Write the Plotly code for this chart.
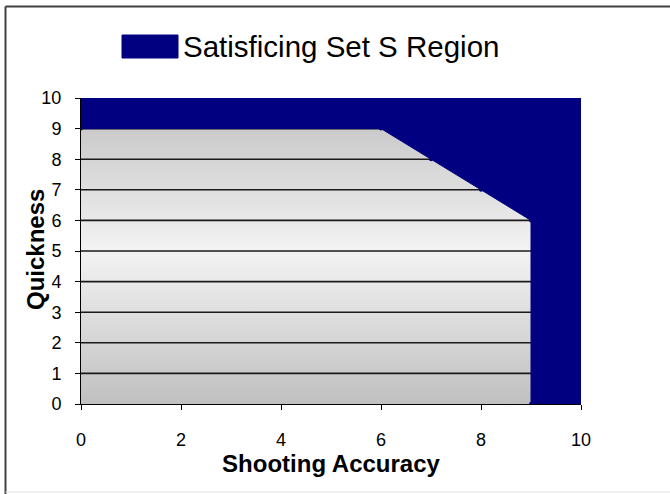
import plotly.graph_objects as go

# ---- data ----
x_ticks = [0, 2, 4, 6, 8, 10]
y_ticks = [0, 1, 2, 3, 4, 5, 6, 7, 8, 9, 10]
boundary_x = [0, 6, 7, 8, 9, 9]
boundary_y = [9, 9, 8, 7, 6, 0]
x_max = 10
y_max = 10
series_name = "Satisficing Set S Region"
x_title = "Shooting Accuracy"
y_title = "Quickness"

NAVY = "#000080"
FONT = "Arial, Liberation Sans, sans-serif"

fig = go.Figure()

# gradient plot-area background
fig.add_trace(go.Scatter(
    x=[0, x_max, x_max, 0, 0], y=[0, 0, y_max, y_max, 0],
    mode="lines", line=dict(width=0), fill="toself",
    fillgradient=dict(type="vertical",
                      colorscale=[[0, "#c0c0c0"], [0.5, "#f3f3f3"], [1, "#c0c0c0"]]),
    showlegend=False, hoverinfo="skip"))

# horizontal grid lines
gx, gy = [], []
for v in y_ticks[1:-1]:
    gx += [0, x_max, None]
    gy += [v, v, None]
fig.add_trace(go.Scatter(x=gx, y=gy, mode="lines",
                         line=dict(color="#1a1a1a", width=1.6),
                         showlegend=False, hoverinfo="skip"))

# satisficing region
px = [0] + boundary_x + [x_max, x_max]
py = [y_max] + boundary_y + [0, y_max]
fig.add_trace(go.Scatter(x=px, y=py, mode="lines+markers", fill="toself",
                         fillcolor=NAVY, line=dict(color=NAVY, width=1),
                         marker=dict(color=NAVY, size=4),
                         name=series_name, showlegend=False))

W, H = 670, 494
L, R, T, B = 81, 89, 98, 90
pw, ph = W - L - R, H - T - B

def xp(pxl):
    return (pxl - L) / pw

def yp(pyl):
    return (H - B - pyl) / ph

shapes = [
    # legend key
    dict(type="rect", xref="paper", yref="paper",
         x0=xp(122), x1=xp(178), y0=yp(58), y1=yp(35),
         fillcolor=NAVY, line=dict(color=NAVY, width=1)),
    # outer frame (top and left)
    dict(type="line", xref="paper", yref="paper",
         x0=xp(5.5), x1=xp(670), y0=yp(6.5), y1=yp(6.5),
         line=dict(color="#404040", width=2)),
    dict(type="line", xref="paper", yref="paper",
         x0=xp(5.5), x1=xp(5.5), y0=yp(6.5), y1=yp(494),
         line=dict(color="#404040", width=2)),
    dict(type="line", xref="paper", yref="paper",
         x0=xp(5.5), x1=xp(670), y0=yp(492), y1=yp(492),
         line=dict(color="#e6e6e6", width=1)),
]

annotations = [
    dict(xref="paper", yref="paper", x=xp(181), y=yp(47), xanchor="left",
         yanchor="middle", text=series_name, showarrow=False,
         font=dict(family=FONT, size=29.5, color="black")),
    dict(xref="paper", yref="paper", x=xp(35), y=yp(250), xanchor="center",
         yanchor="middle", text="<b>" + y_title + "</b>", showarrow=False,
         textangle=-90, font=dict(family=FONT, size=24, color="black")),
]

fig.update_layout(
    width=W, height=H, autosize=False,
    margin=dict(l=L, r=R, t=T, b=B),
    paper_bgcolor="white", plot_bgcolor="white",
    showlegend=False,
    shapes=shapes, annotations=annotations,
    font=dict(family=FONT, color="black"),
    xaxis=dict(range=[0, x_max], tickvals=x_ticks, ticks="outside", ticklen=5,
               tickcolor="black", showline=True, linecolor="black", linewidth=1,
               showgrid=False, zeroline=False, tickfont=dict(size=18),
               ticklabelstandoff=14,
               title=dict(text="<b>" + x_title + "</b>", font=dict(size=24), standoff=1)),
    yaxis=dict(range=[0, y_max], tickvals=y_ticks, ticks="outside", ticklen=5,
               tickcolor="black", showline=True, linecolor="black", linewidth=1,
               showgrid=False, zeroline=False, tickfont=dict(size=18),
               ticklabelstandoff=10),
)

fig.write_html("out.html",
               config={"displayModeBar": False},
               post_script="document.body.style.margin='0';document.body.style.overflow='hidden';")
